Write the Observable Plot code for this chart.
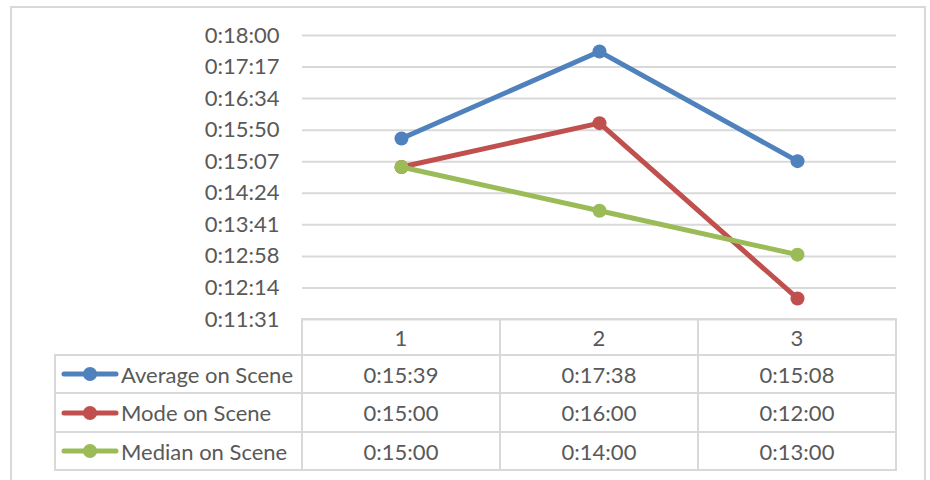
<!DOCTYPE html>
<html>
<head>
<meta charset="utf-8">
<script src="https://cdn.jsdelivr.net/npm/d3@7"></script>
<script src="https://cdn.jsdelivr.net/npm/@observablehq/plot@0.6"></script>
<style>
  html, body { margin: 0; padding: 0; background: #fff; }
  body { width: 930px; height: 480px; position: relative; overflow: hidden; font-family: Lato, "Noto Sans", sans-serif; color: #595959; }
  #frame { position: absolute; left: 10px; top: 6px; width: 916px; height: 500px; border: 2px solid #D9D9D9; box-sizing: border-box; }
  #chart { position: absolute; left: 0; top: 0; }
  .cell { position: absolute; box-sizing: border-box; border: 2px solid #D9D9D9; display: flex; align-items: center; justify-content: center; font-size: 22px; color: #595959; white-space: nowrap; }
  .cell.leg { justify-content: flex-start; padding-left: 5px; }
  .cell.leg svg { margin-right: 2px; }
</style>
</head>
<body>
<div id="frame"></div>
<div id="chart"></div>
<div id="table"></div>
<script>
// ---- Data (times in seconds) ----
const categories = [1, 2, 3];
const seriesNames = ["Average on Scene", "Mode on Scene", "Median on Scene"];
const averageOnScene = [939, 1058, 908];   // 0:15:39, 0:17:38, 0:15:08
const modeOnScene = [900, 960, 720];       // 0:15:00, 0:16:00, 0:12:00
const medianOnScene = [900, 840, 780];     // 0:15:00, 0:14:00, 0:13:00
const yTickSeconds = [691.2, 734.4, 777.6, 820.8, 864, 907.2, 950.4, 993.6, 1036.8, 1080];
const seriesColors = ["#4F81BD", "#C0504D", "#9BBB59"];

const seriesValues = [averageOnScene, modeOnScene, medianOnScene];
const rows = [];
seriesNames.forEach((name, si) => categories.forEach((c, ci) => rows.push({series: name, cat: c, value: seriesValues[si][ci]})));

const fmt = (v) => {
  const s = Math.round(v);
  const h = Math.floor(s / 3600), m = Math.floor((s % 3600) / 60), sec = s % 60;
  return `${h}:${String(m).padStart(2, "0")}:${String(sec).padStart(2, "0")}`;
};

const plot = Plot.plot({
  width: 930,
  height: 345,
  marginTop: 35,
  marginBottom: 26,
  marginLeft: 302,
  marginRight: 34,
  x: {type: "band", domain: categories, padding: 0, axis: null},
  y: {domain: [691.2, 1080], axis: null},
  color: {domain: seriesNames, range: seriesColors},
  style: {fontFamily: "Lato, 'Noto Sans', sans-serif", fontSize: "22px", color: "#595959", background: "transparent", overflow: "visible"},
  marks: [
    Plot.gridY(yTickSeconds, {stroke: "#D9D9D9", strokeOpacity: 1, strokeWidth: 2}),
    Plot.axisY(yTickSeconds, {tickFormat: fmt, tickSize: 0, tickPadding: 23, label: null, fontSize: 22, fill: "#595959"}),
    ...seriesNames.flatMap((name) => [
      Plot.line(rows.filter(d => d.series === name), {x: "cat", y: "value", stroke: "series", strokeWidth: 5}),
      Plot.dot(rows.filter(d => d.series === name), {x: "cat", y: "value", fill: "series", r: 7})
    ])
  ]
});
document.getElementById("chart").appendChild(plot);

// ---- Data table below the chart ----
const xs = plot.scale("x");
const colLeft = xs.apply(categories[0]);
const bw = xs.bandwidth;
const tableLeft = 55;
const rowTops = [319, 355, 393, 432, 470];
const table = document.getElementById("table");
function cell(x0, x1, y0, y1, html, cls) {
  const d = document.createElement("div");
  d.className = "cell" + (cls ? " " + cls : "");
  d.style.left = (x0 - 1) + "px";
  d.style.top = (y0 - 1) + "px";
  d.style.width = (x1 - x0 + 2) + "px";
  d.style.height = (y1 - y0 + 2) + "px";
  d.innerHTML = html;
  table.appendChild(d);
}
// header row
categories.forEach((c) => {
  const x0 = xs.apply(c);
  cell(x0, x0 + bw, rowTops[0], rowTops[1], String(c));
});
// series rows
seriesNames.forEach((name, si) => {
  const y0 = rowTops[si + 1], y1 = rowTops[si + 2];
  const sw = `<svg width="58" height="16" viewBox="0 0 58 16"><line x1="3" y1="8" x2="55" y2="8" stroke="${seriesColors[si]}" stroke-width="5" stroke-linecap="round"/><circle cx="29" cy="8" r="7" fill="${seriesColors[si]}"/></svg>`;
  cell(tableLeft, colLeft, y0, y1, sw + `<span>${name}</span>`, "leg");
  categories.forEach((c, ci) => {
    const x0 = xs.apply(c);
    cell(x0, x0 + bw, y0, y1, fmt(seriesValues[si][ci]));
  });
});
</script>
</body>
</html>
